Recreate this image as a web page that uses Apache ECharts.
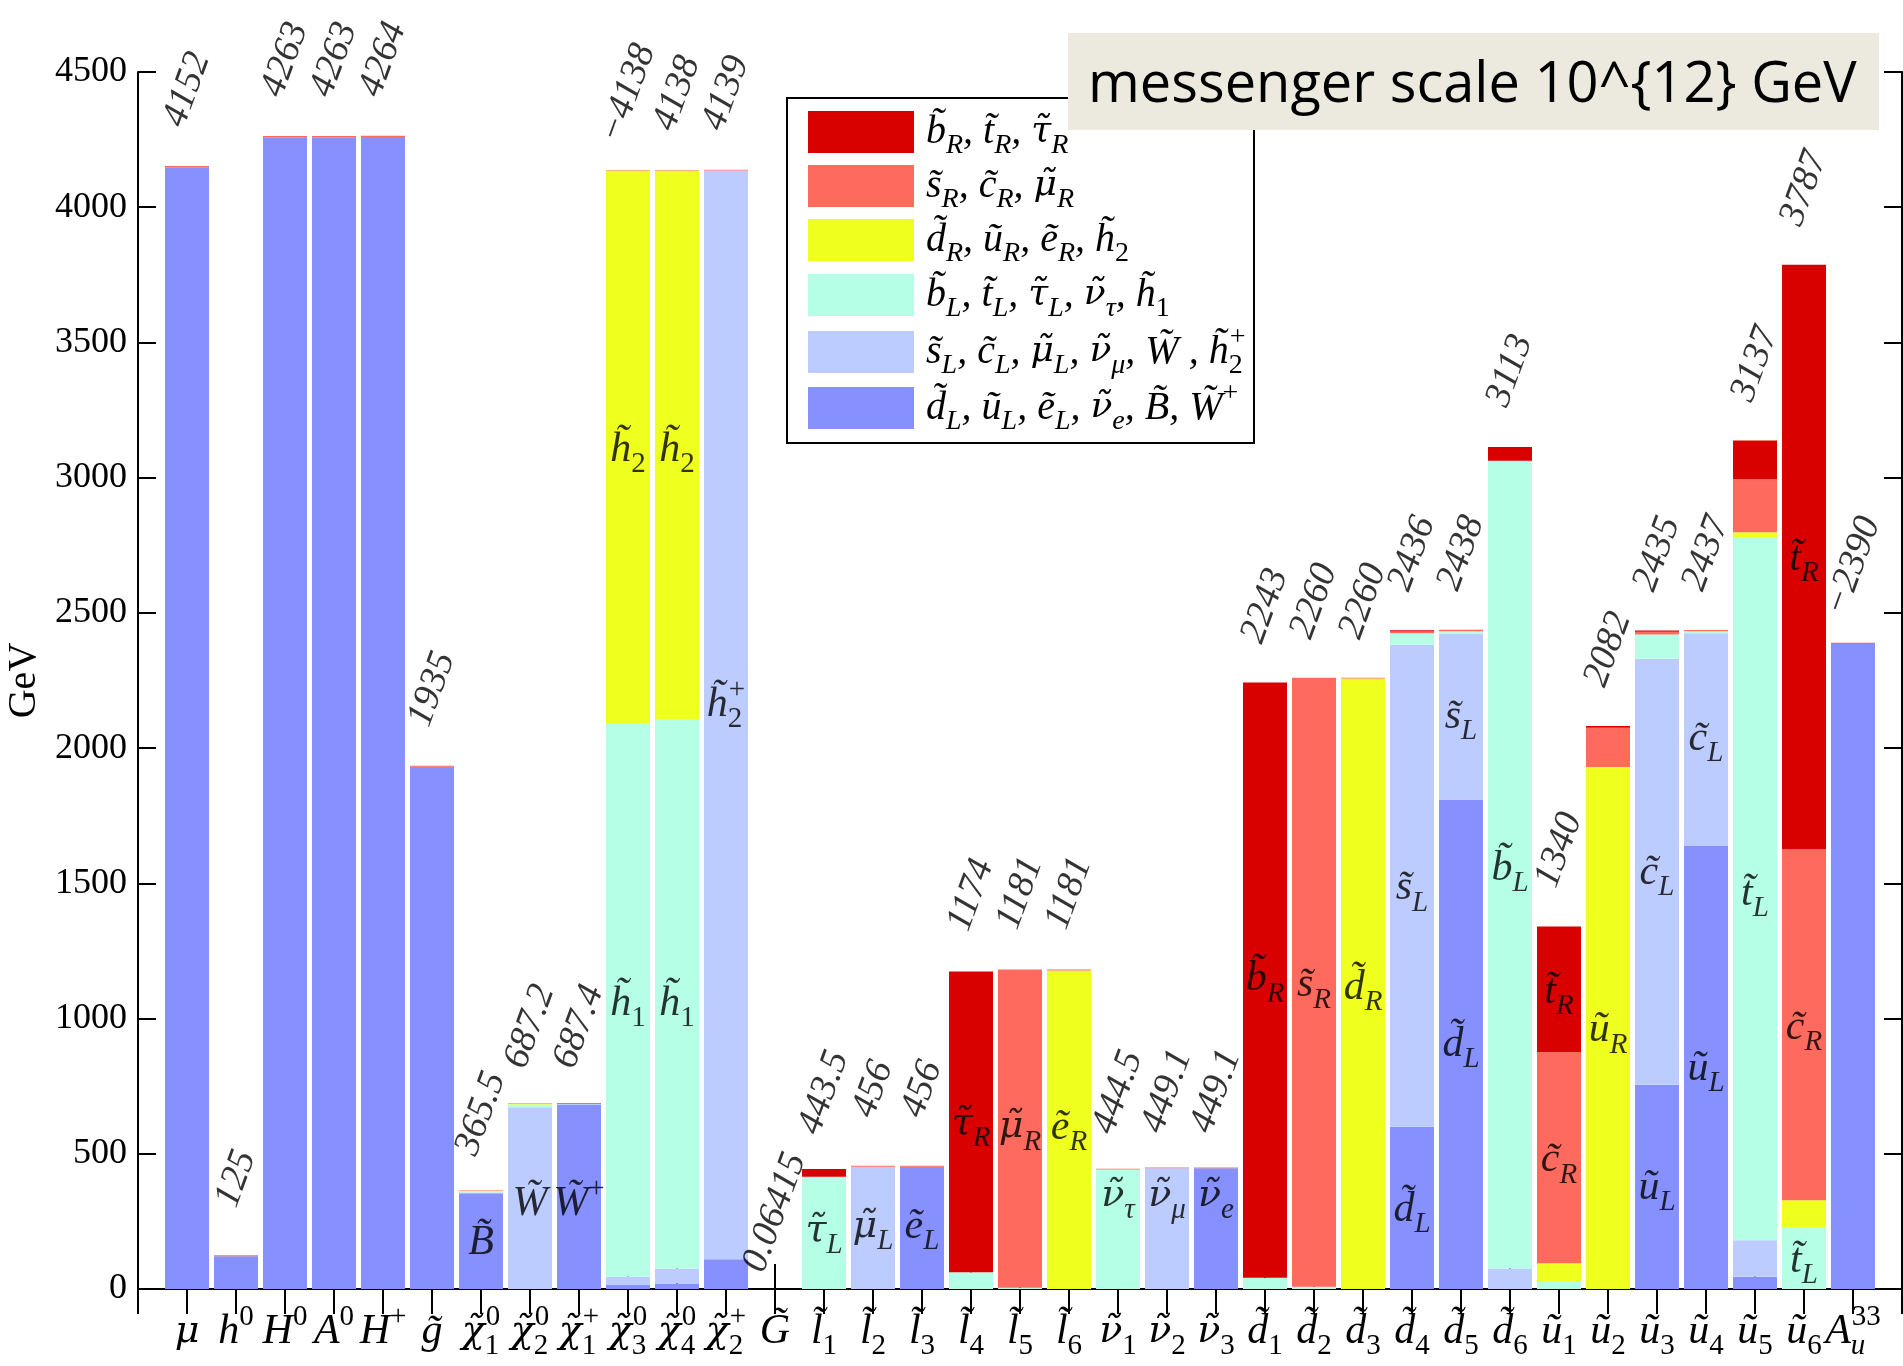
<!DOCTYPE html>
<html>
<head>
<meta charset="utf-8">
<script src="https://cdn.jsdelivr.net/npm/echarts@6.0.0/dist/echarts.min.js"></script>
<style>
html, body { margin: 0; padding: 0; background: #fff; }
#main { width: 1903px; height: 1366px; }
</style>
</head>
<body>
<div id="main"></div>
<script>
// particle names (tex-like markup: _ sub, ^ sup)
var particles = ['μ', 'h^0', 'H^0', 'A^0', 'H^+', 'g̃', 'χ̃_1^0', 'χ̃_2^0', 'χ̃_1^+', 'χ̃_3^0', 'χ̃_4^0', 'χ̃_2^+',
  'G̃', 'l̃_1', 'l̃_2', 'l̃_3', 'l̃_4', 'l̃_5', 'l̃_6', 'ν̃_1', 'ν̃_2', 'ν̃_3',
  'd̃_1', 'd̃_2', 'd̃_3', 'd̃_4', 'd̃_5', 'd̃_6', 'ũ_1', 'ũ_2', 'ũ_3', 'ũ_4', 'ũ_5', 'ũ_6', 'A_u^{33}'];

var massText = ['4152', '125', '4263', '4263', '4264', '1935', '365.5', '687.2', '687.4', '−4138', '4138', '4139',
  '0.06415', '443.5', '456', '456', '1174', '1181', '1181', '444.5', '449.1', '449.1',
  '2243', '2260', '2260', '2436', '2438', '3113', '1340', '2082', '2435', '2437', '3137', '3787', '−2390'];

// composition of each state (GeV share), bottom to top
var segDL = [4148, 121, 4259, 4259, 4260, 1931, 354, 0, 680, 15, 20, 110,
  0, 0, 0, 452, 0, 0, 0, 0, 0, 446.1,
  0, 0, 0, 600, 1810, 0, 0, 0, 755, 1640, 45, 0, 2385];
var segSL = [0, 0, 0, 0, 0, 0, 3, 672, 4, 30, 55, 4026,
  0, 0, 452, 0, 0, 0, 0, 0, 446.1, 0,
  0, 0, 0, 1782, 614, 76, 0, 0, 1575, 785, 135, 0, 0];
var segBL = [0, 0, 0, 0, 0, 0, 3, 10, 0, 2045, 2030, 0,
  0, 415, 0, 0, 62, 5, 0, 441.5, 0, 0,
  42, 8, 0, 43, 8, 2987, 30, 0, 90, 7, 2600, 228, 0];
var segDR = [0, 0, 0, 0, 0, 0, 3, 3, 0, 2046, 2031, 0,
  0, 0, 0, 0, 0, 0, 1178, 0, 0, 0,
  0, 0, 2257, 0, 0, 0, 65, 1930, 0, 0, 18, 100, 0];
var segSR = [4, 4, 4, 4, 4, 4, 2.5, 2.2, 3.4, 2, 2, 3,
  0.06415, 0, 4, 4, 0, 1176, 3, 3, 3, 3,
  0, 2252, 3, 6, 6, 0, 780, 145, 10, 5, 197, 1298, 5];
var segBR = [0, 0, 0, 0, 0, 0, 0, 0, 0, 0, 0, 0,
  0, 28.5, 0, 0, 1112, 0, 0, 0, 0, 0,
  2201, 0, 0, 5, 0, 50, 465, 7, 5, 0, 142, 2161, 0];

var groupNames = ['d̃_L, ũ_L, ẽ_L, ν̃_e, B̃, W̃^+', 's̃_L, c̃_L, μ̃_L, ν̃_μ, W̃ , h̃_2^+', 'b̃_L, t̃_L, τ̃_L, ν̃_τ, h̃_1',
  'd̃_R, ũ_R, ẽ_R, h̃_2', 's̃_R, c̃_R, μ̃_R', 'b̃_R, t̃_R, τ̃_R'];
var groupColors = ['#8690ff', '#bdccff', '#b4ffe6', '#efff1e', '#fe6a5e', '#d90000'];

// labels written inside the bars
var innerCat = [7, 8, 9, 10, 10, 11, 11, 12, 14, 15, 16, 17, 18, 19, 20, 21, 22, 23, 24, 25,
  26, 26, 27, 27, 28, 29, 29, 30, 31, 31, 32, 32, 33, 34, 34, 34];
var innerVal = [170, 315, 315, 3103, 1055, 3103, 1055, 2160, 215, 230, 230, 610, 597, 597, 345, 345, 345, 1145, 1123, 1114,
  1482, 292, 2115, 903, 1554, 1100, 476, 957, 1540, 373, 2034, 813, 1460, 2700, 966, 103];
var innerTex = ['B̃', 'W̃', 'W̃^+', 'h̃_2', 'h̃_1', 'h̃_2', 'h̃_1', 'h̃_2^+', 'τ̃_L', 'μ̃_L', 'ẽ_L', 'τ̃_R', 'μ̃_R', 'ẽ_R',
  'ν̃_τ', 'ν̃_μ', 'ν̃_e', 'b̃_R', 's̃_R', 'd̃_R', 's̃_L', 'd̃_L', 's̃_L', 'd̃_L', 'b̃_L', 't̃_R', 'c̃_R', 'ũ_R',
  'c̃_L', 'ũ_L', 'c̃_L', 'ũ_L', 't̃_L', 't̃_R', 'c̃_R', 't̃_L'];

var yTicks = [0, 4500, 500];

var SERIF = '"Liberation Serif", "DejaVu Serif", serif';

// --- tex-like markup -> echarts rich text
function texToRich(src, p) {
  var out = '', i = 0, buf = '';
  function flush() {
    // greek letters go in DejaVu (combining tilde sits right there)
    var re = /([\u0370-\u03ff][\u0300-\u036f]*)|([^\u0370-\u03ff]+)/g, m;
    while ((m = re.exec(buf))) {
      out += '{' + p + (m[1] ? 'g' : 'm') + '|' + m[0] + '}';
    }
    buf = '';
  }
  function readArg() {
    if (src[i] === '{') {
      var j = src.indexOf('}', i);
      var a = src.slice(i + 1, j);
      i = j + 1;
      return a;
    }
    var a = src[i]; i++;
    while (i < src.length && /[\u0300-\u036f]/.test(src[i])) { a += src[i]; i++; }
    return a;
  }
  while (i < src.length) {
    var c = src[i];
    if (c === '_' || c === '^') {
      flush();
      i++;
      var arg = readArg();
      var kind = c === '_' ? 's' : 'p';
      var num = /^[0-9+\-]+$/.test(arg) ? 'n' : '';
      var stacked = (src[i] === '_' || src[i] === '^') && src[i] !== c;
      out += '{' + p + kind + num + (stacked ? 'k' : '') + '|' + arg + '}';
    } else {
      buf += c; i++;
    }
  }
  flush();
  return out;
}

function mathRich(p, size, lh) {
  var ss = Math.round(size * 0.7);
  var sh = lh - 0.7 * size;
  var r = {};
  r[p + 'm'] = { fontFamily: SERIF, fontStyle: 'italic', fontSize: size, lineHeight: lh, align: 'left', color: '#000' };
  r[p + 'g'] = { fontFamily: '"DejaVu Serif", serif', fontStyle: 'italic', fontSize: Math.round(size * 0.9), lineHeight: lh, align: 'left', color: '#000' };
  ['s', 'p'].forEach(function (k) {
    ['', 'n'].forEach(function (n) {
      ['', 'k'].forEach(function (st) {
        var o = {
          fontFamily: SERIF, fontStyle: n ? 'normal' : 'italic', fontSize: ss,
          height: sh, lineHeight: sh, align: 'left',
          verticalAlign: k === 's' ? 'bottom' : 'top', color: '#000'
        };
        if (st) o.width = 1;
        r[p + k + n + st] = o;
      });
    });
  });
  return r;
}

var cats = [' '].concat(particles, ['  ']);
function pad(arr) { return ['-'].concat(arr, ['-']); }

var segs = [segDL, segSL, segBL, segDR, segSR, segBR];
var totals = particles.map(function (_, i) {
  return segs.reduce(function (s, a) { return s + a[i]; }, 0);
});

var series = segs.map(function (a, k) {
  return {
    name: groupNames[k],
    type: 'bar',
    stack: 'mass',
    barWidth: 44,
    data: pad(a),
    itemStyle: { color: groupColors[k] },
    silent: true,
    z: 2
  };
});

series.push({
  type: 'scatter',
  data: pad(totals),
  symbolSize: 1,
  itemStyle: { color: 'rgba(0,0,0,0)' },
  silent: true,
  z: 5,
  label: {
    show: true,
    position: 'top',
    distance: 76,
    rotate: 70,
    align: 'center',
    verticalAlign: 'middle',
    fontFamily: SERIF,
    fontStyle: 'italic',
    fontSize: 38,
    color: '#000',
    formatter: function (p) { return massText[p.dataIndex - 1]; }
  }
});

series.push({
  type: 'scatter',
  data: innerCat.map(function (c, i) { return [c, innerVal[i]]; }),
  symbolSize: 1,
  itemStyle: { color: 'rgba(0,0,0,0)' },
  silent: true,
  z: 6,
  label: {
    show: true,
    position: 'inside',
    formatter: function (p) { return texToRich(innerTex[p.dataIndex], 'i'); },
    rich: mathRich('i', 42, 52)
  }
});

// one legend row per group, top to bottom: bR, sR, dR, bL, sL, dL
var legendTops = [111, 165, 219, 274, 324, 380];
var legends = groupNames.slice().reverse().map(function (n, r) {
  return {
    orient: 'vertical',
    left: 808,
    top: legendTops[r],
    padding: 0,
    itemWidth: 106,
    itemHeight: 42,
    icon: 'rect',
    selectedMode: false,
    data: [n],
    formatter: function (name) { return texToRich(name, 'l'); },
    textStyle: { rich: mathRich('l', 40, 42), padding: [0, 0, 0, 7] },
    z: 4
  };
});

var axisLine = { show: true, lineStyle: { color: '#000', width: 2 } };
var tickX = { show: true, inside: true, length: 25, interval: 0, lineStyle: { color: '#000', width: 2 } };
var tickY = { show: true, inside: true, length: 18, lineStyle: { color: '#000', width: 2 } };

var chart = echarts.init(document.getElementById('main'));
chart.setOption({
  backgroundColor: '#fff',
  animation: false,
  grid: { left: 138, right: 1, top: 72, bottom: 77, containLabel: false, outerBoundsMode: 'none' },
  legend: legends,
  xAxis: [{
    type: 'category',
    data: cats,
    boundaryGap: false,
    position: 'bottom',
    axisLine: axisLine,
    axisTick: tickX,
    axisLabel: {
      interval: 0,
      margin: 17,
      formatter: function (v) { return v.trim() ? texToRich(v, 'x') : ''; },
      rich: mathRich('x', 42, 52)
    },
    splitLine: { show: false }
  }, {
    type: 'category',
    data: cats,
    boundaryGap: false,
    position: 'top',
    axisLine: axisLine,
    axisTick: tickX,
    axisLabel: { show: false },
    splitLine: { show: false }
  }],
  yAxis: [{
    type: 'value',
    min: yTicks[0],
    max: yTicks[1],
    interval: yTicks[2],
    position: 'left',
    name: 'GeV',
    nameLocation: 'middle',
    nameRotate: 90,
    nameGap: 92,
    nameTextStyle: { fontFamily: SERIF, fontSize: 40, color: '#000' },
    axisLine: axisLine,
    axisTick: tickY,
    axisLabel: {
      margin: 11, fontFamily: SERIF, fontSize: 36, color: '#000',
      formatter: function (v) { return String(v); }
    },
    splitLine: { show: false }
  }, {
    type: 'value',
    min: yTicks[0],
    max: yTicks[1],
    interval: yTicks[2],
    position: 'right',
    axisLine: axisLine,
    axisTick: tickY,
    axisLabel: { show: false },
    splitLine: { show: false }
  }],
  graphic: [{
    type: 'rect',
    shape: { x: 787, y: 98, width: 467, height: 345 },
    style: { fill: '#fff', stroke: '#000', lineWidth: 2 },
    z: 3,
    silent: true
  }, {
    type: 'rect',
    shape: { x: 1068, y: 33, width: 811, height: 97 },
    style: { fill: '#eceadf' },
    z: 10,
    silent: true
  }, {
    type: 'text',
    x: 1088,
    y: 86,
    style: {
      text: 'messenger scale 10^{12} GeV',
      fontFamily: '"Open Sans", sans-serif',
      fontSize: 56,
      fill: '#000',
      verticalAlign: 'middle',
      textVerticalAlign: 'middle'
    },
    z: 11,
    silent: true
  }],
  series: series
});
</script>
</body>
</html>
